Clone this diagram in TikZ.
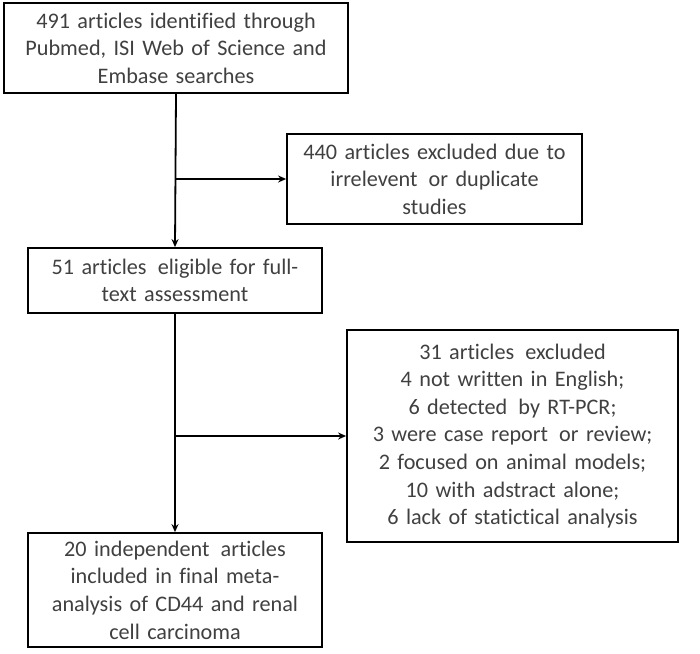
\documentclass[tikz,border=0pt]{standalone}
\usepackage{fontspec}
\setmainfont{Carlito}[Ligatures={NoCommon,NoContextual},RawFeature={-calt;-clig}]
\usepackage{tikz}
\usetikzlibrary{positioning, arrows.meta}
\tikzset{kasten/.style={rectangle,draw,line width=1.8pt,align=center,
		text=black!75,inner sep=0pt,
		font=\fontsize{22.2}{27.6}\selectfont},
	pfeil/.style={line width=1.8pt,-{Stealth[length=8pt,width=7pt]}} }

\begin{document}
\begin{tikzpicture}[x=1pt,y=-1pt]
	\useasboundingbox (0,0) rectangle (700,653);

	\node (ident) [kasten, minimum width=344pt, minimum height=90pt, text width=334pt] at (176,48)
		{491 articles identified through\\Pubmed, ISI Web of Science and\\Embase searches};
	\node (dup) [kasten, minimum width=295pt, minimum height=90pt, text width=287pt] at (434.5,179)
		{440 articles excluded due to\\irrelevent\, or duplicate\\studies};
	\node (elig) [kasten, minimum width=294pt, minimum height=65pt, text width=286pt] at (175,280.5)
		{51 articles\, eligible for full-\\text assessment};
	\node (ausg) [kasten, minimum width=331pt, minimum height=212pt, text width=322pt] at (512.5,436)
		{31 articles\, excluded\\4 not written in English;\\6 detected\, by RT-PCR;\\3 were case report\, or review;\\2 focused on animal models;\\10 with adstract alone;\\6 lack of statictical analysis};
	\node (final) [kasten, minimum width=294pt, minimum height=114pt, text width=286pt] at (175,590)
		{20 independent\, articles\\included in final meta-\\analysis of CD44 and renal\\cell carcinoma};

	\draw [pfeil] (ident.south) -- (elig.north);
	\draw [pfeil] (elig.south) -- (final.north);
	% seitliche Abzweigungen
	\draw [pfeil] (ident.south |- dup.west) -- (dup.west);
	\draw [pfeil] (elig.south |- ausg.west) -- (ausg.west);
\end{tikzpicture}
\end{document}
